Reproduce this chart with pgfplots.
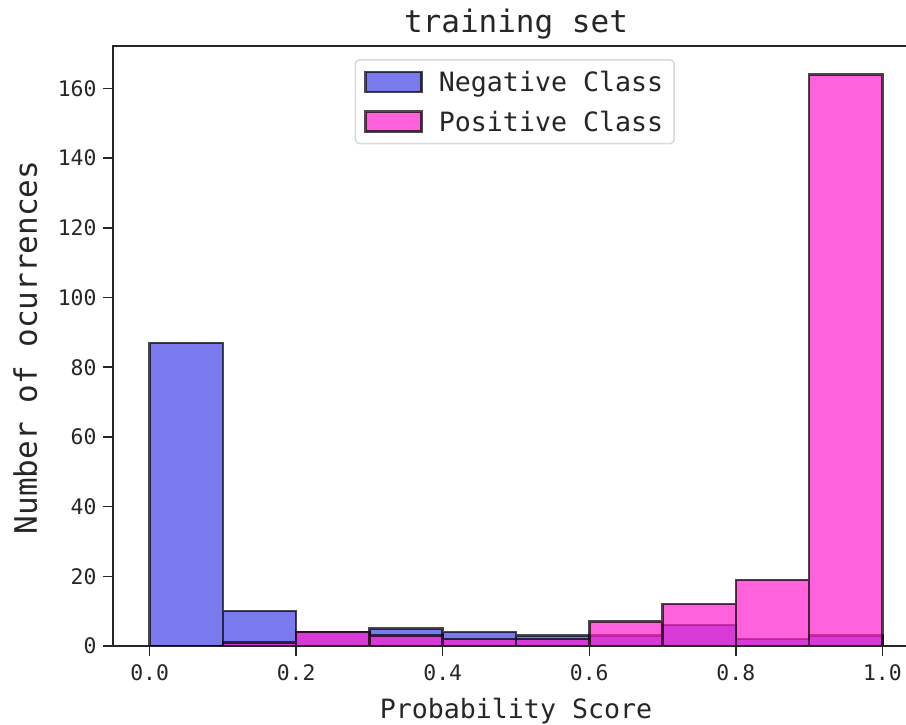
\documentclass[border=0pt]{standalone}
\usepackage{fontspec}
\setmainfont{DejaVu Sans Mono}
\usepackage{pgfplots}
\pgfplotsset{compat=1.18}
\definecolor{negc}{RGB}{66,66,231}
\definecolor{posc}{RGB}{255,31,204}
\definecolor{spine}{RGB}{38,38,38}

\begin{document}
\begin{tikzpicture}
% the original image is cut at the right, just short of the right spine
\useasboundingbox (-113pt,-79pt) rectangle (793pt,646pt);
\begin{axis}[
    at={(0,0)}, anchor=south west,
    scale only axis,
    width=806pt, height=600pt,
    xmin=-0.05, xmax=1.05,
    ymin=0, ymax=172.2,
    axis line style={line width=2pt, spine},
    xtick={0,0.2,0.4,0.6,0.8,1.0},
    ytick={0,20,...,160},
    xtick pos=bottom, ytick pos=left,
    tick align=outside,
    major tick length=10pt,
    tick style={line width=1.5pt, spine},
    xticklabel style={/pgf/number format/.cd, fixed, fixed zerofill, precision=1},
    xticklabel shift=5pt,
    yticklabel shift=3pt,
    /pgf/number format/assume math mode=true,
    ticklabel style={font=\fontsize{21.4}{24}\selectfont, text=spine},
    title={training set},
    title style={font=\fontsize{31}{36}\selectfont, text=spine, at={(axis description cs:0.5,1.013)}, anchor=base},
    xlabel={Probability Score},
    xlabel style={font=\fontsize{26.6}{30}\selectfont, text=spine, at={(axis description cs:0.5,-0.121)}, anchor=base},
    ylabel={Number of ocurrences},
    ylabel style={font=\fontsize{31}{36}\selectfont, text=spine, at={(axis description cs:-0.0943,0.4975)}, anchor=base},
    legend style={at={(axis description cs:0.4985,0.978)}, anchor=north,
        draw=black!15, rounded corners=4pt, line width=1.5pt,
        font=\fontsize{26.6}{30}\selectfont, text=spine,
        row sep=14pt,
        /tikz/every odd column/.append style={column sep=14pt},
        inner xsep=9pt, inner ysep=9pt},
    legend cell align=left,
]
% Negative class histogram (10 bins, width 0.1)
\addplot[ybar, bar width=0.1, bar shift=0pt, fill=negc, fill opacity=0.7,
    draw=black, draw opacity=0.7, line width=2.5pt,
    legend image code/.code={\draw[sharp corners, fill=negc, fill opacity=0.7, draw=black, draw opacity=0.7, line width=2.5pt] (0pt,-10pt) rectangle (56pt,10pt);}]
    coordinates {(0.05,87) (0.15,10) (0.25,4) (0.35,5) (0.45,4) (0.55,3) (0.65,3) (0.75,6) (0.85,2) (0.95,3)};
\addlegendentry{Negative Class}
% Positive class histogram
\addplot[ybar, bar width=0.1, bar shift=0pt, fill=posc, fill opacity=0.7,
    draw=black, draw opacity=0.7, line width=2.5pt,
    legend image code/.code={\draw[sharp corners, fill=posc, fill opacity=0.7, draw=black, draw opacity=0.7, line width=2.5pt] (0pt,-10pt) rectangle (56pt,10pt);}]
    coordinates {(0.05,0) (0.15,1) (0.25,4) (0.35,3) (0.45,2) (0.55,2) (0.65,7) (0.75,12) (0.85,19) (0.95,164)};
\addlegendentry{Positive Class}
\end{axis}
\end{tikzpicture}
\end{document}
